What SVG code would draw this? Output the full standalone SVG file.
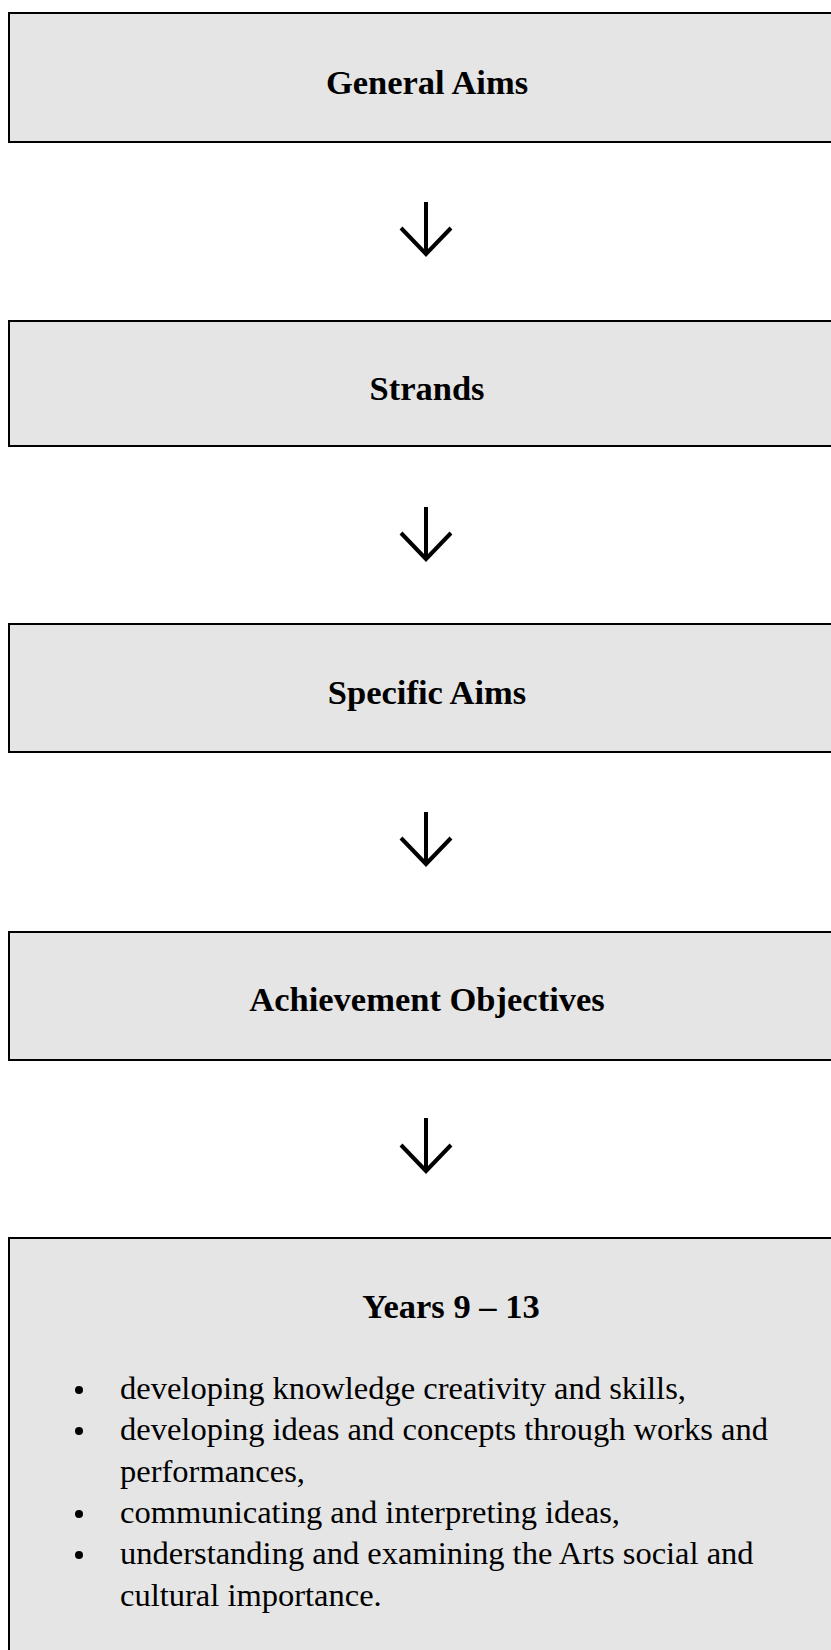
<svg xmlns="http://www.w3.org/2000/svg" width="831" height="1650" viewBox="0 0 831 1650">
<style>
.box{fill:#e5e5e5;stroke:#000;stroke-width:2}
.hd{font-family:"Liberation Serif","DejaVu Serif",serif;font-weight:bold;font-size:34.5px;text-anchor:middle;fill:#000}
.tx{font-family:"Liberation Serif","DejaVu Serif",serif;font-size:32.5px;fill:#000}
.arr{fill:none;stroke:#000;stroke-width:4}
</style>
<rect width="831" height="1650" fill="#fff"/>
<g id="general-aims">
<rect class="box" x="9" y="13" width="860" height="129"/>
<text class="hd" x="427" y="94">General Aims</text>
</g>
<g id="strands">
<rect class="box" x="9" y="321" width="860" height="125"/>
<text class="hd" x="427" y="400">Strands</text>
</g>
<g id="specific-aims">
<rect class="box" x="9" y="624" width="860" height="128"/>
<text class="hd" x="427" y="704">Specific Aims</text>
</g>
<g id="achievement-objectives">
<rect class="box" x="9" y="932" width="860" height="128"/>
<text class="hd" x="427" y="1011">Achievement Objectives</text>
</g>
<g id="years">
<rect class="box" x="9" y="1238" width="860" height="430"/>
<text class="hd" x="451" y="1318">Years 9 – 13</text>
<circle cx="79" cy="1390" r="4"/>
<circle cx="79" cy="1431" r="4"/>
<circle cx="79" cy="1514" r="4"/>
<circle cx="79" cy="1555" r="4"/>
<text class="tx" x="120" y="1399">developing knowledge creativity and skills,</text>
<text class="tx" x="120" y="1440">developing ideas and concepts through works and</text>
<text class="tx" x="120" y="1482">performances,</text>
<text class="tx" x="120" y="1523">communicating and interpreting ideas,</text>
<text class="tx" x="120" y="1564">understanding and examining the Arts social and</text>
<text class="tx" x="120" y="1606">cultural importance.</text>
</g>
<g id="connectors">
<path class="arr" d="M426 202V255M401 228L426 254L451 228"/>
<path class="arr" d="M426 507V560M401 533L426 559L451 533"/>
<path class="arr" d="M426 812V865M401 838L426 864L451 838"/>
<path class="arr" d="M426 1118V1172M401 1145L426 1171L451 1145"/>
</g>
</svg>
